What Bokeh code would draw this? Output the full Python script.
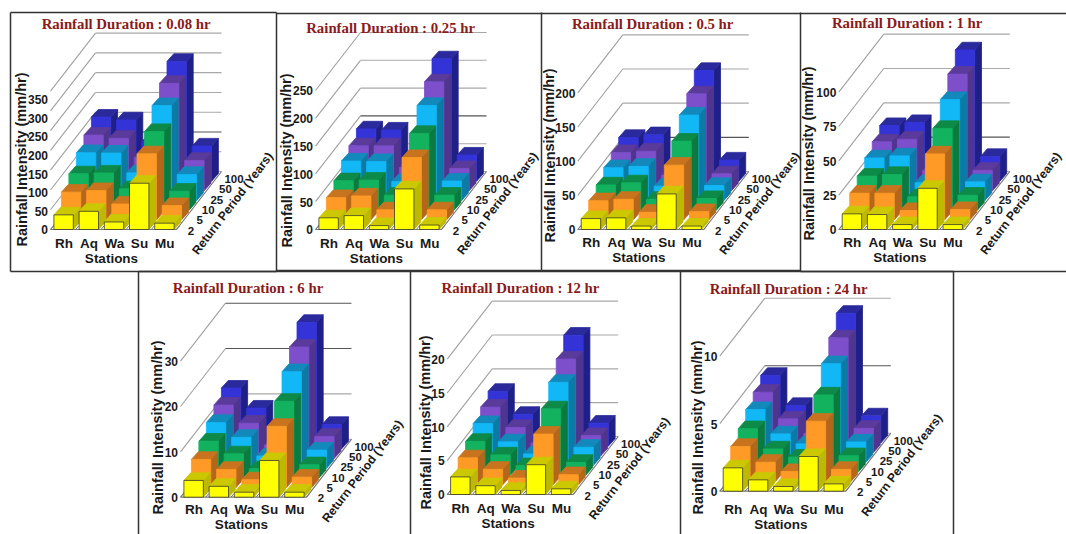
from bokeh.plotting import figure
from bokeh.models import Range1d
from bokeh.core.properties import value
from bokeh.embed import file_html
from bokeh.resources import INLINE

stations = ["Rh", "Aq", "Wa", "Su", "Mu"]
periods = ["2", "5", "10", "25", "50", "100"]

# rows: station, columns: return period
d008 = [[37, 70, 92, 121, 141, 162], [46, 74, 94, 120, 133, 155], [19, 40, 54, 70, 85, 100],
        [117, 167, 199, 240, 272, 303], [16, 36, 48, 66, 77, 89]]
d025 = [[21, 40, 53, 71, 81, 94], [25, 43, 54, 70, 81, 92], [7, 18, 27, 34, 42, 50],
        [73, 112, 138, 171, 196, 220], [8, 18, 27, 35, 40, 47]]
d05 = [[16, 28, 37, 48, 56, 64], [17, 30, 40, 50, 58, 68], [5, 11, 16, 21, 23, 26],
       [52, 80, 101, 125, 142, 162], [5, 12, 17, 22, 25, 31]]
d1 = [[11.4, 19.4, 24.8, 31, 35.7, 40.5], [10.9, 19.4, 26, 32.5, 37.6, 42.7], [3.6, 6.8, 9.7, 13, 15, 17],
      [30, 48, 59.5, 73.5, 85, 95.6], [3.6, 7.5, 10.9, 13.6, 15, 18]]
d6 = [[3.7, 6.2, 8.1, 10.1, 11.8, 13.4], [2.4, 4, 5.3, 6.8, 7.8, 9], [1.1, 1.7, 2, 2.7, 3, 3.4],
      [8.1, 13.5, 16.9, 21.3, 24.6, 27.9], [1.1, 2.3, 2.9, 4, 4.9, 5.4]]
d12 = [[2.6, 4, 5, 6.2, 7.2, 8.1], [1.3, 2.3, 3, 3.5, 4.2, 4.7], [0.6, 1, 1.4, 1.7, 1.9, 2.2],
       [4.4, 7.5, 9.8, 12.3, 14.3, 16.4], [0.84, 1.5, 1.9, 2.7, 3, 3.4]]
d24 = [[1.73, 2.6, 3.2, 3.9, 4.47, 5], [0.84, 1.43, 1.7, 2.1, 2.5, 2.77], [0.35, 0.74, 1.1, 1.36, 1.4, 1.5],
       [2.57, 4.47, 5.7, 7.3, 8.5, 9.6], [0.54, 0.9, 1.2, 1.5, 1.8, 2]]

ticks008 = [0, 50, 100, 150, 200, 250, 300, 350]
ticks025 = [0, 50, 100, 150, 200, 250]
ticks05 = [0, 50, 100, 150, 200]
ticks1 = [0, 25, 50, 75, 100]
ticks6 = [0, 10, 20, 30]
ticks12 = [0, 5, 10, 15, 20]
ticks24 = [0, 5, 10]

front = ["#ffff00", "#ff9a26", "#12b25e", "#12b8f6", "#7d4fca", "#3333d8"]
top = ["#cbc800", "#c8741f", "#0e8a48", "#1289ba", "#5a3a9a", "#2a2a9c"]
side = ["#bdb800", "#b4661a", "#0b7a3e", "#0b7aa4", "#4f358e", "#1f1f88"]

panels = [
    dict(vals=d008, ticks=ticks008, title="Rainfall Duration :  0.08 hr", tc=(127.5, 23), ox=50, oy=229, s=59.3 / 50 / 3,
         yl=(21, 159), ldy=14, dark=[100], lf=0.94),
    dict(vals=d025, ticks=ticks025, title="Rainfall Duration :  0.25 hr", tc=(392, 27), ox=315, oy=229, s=1.668 / 3,
         yl=(286, 160), ldy=14, dark=[100], lf=1),
    dict(vals=d05, ticks=ticks05, title="Rainfall Duration :  0.5 hr", tc=(654, 23), ox=577.3, oy=229, s=2.05 / 3,
         yl=(549, 155), ldy=13, dark=[50], lf=1),
    dict(vals=d1, ticks=ticks1, title="Rainfall Duration :  1 hr", tc=(908.5, 22), ox=838.3, oy=229, s=4.12 / 3,
         yl=(808, 153), ldy=13, dark=[25], lf=1),
    dict(vals=d6, ticks=ticks6, title="Rainfall Duration : 6 hr", tc=(247.5, 287), ox=180, oy=496.7, s=13.6 / 3,
         yl=(157, 427), ldy=12, dark=[20, 30], lf=1),
    dict(vals=d12, ticks=ticks12, title="Rainfall Duration : 12 hr", tc=(520, 287), ox=446.7, oy=494, s=20.3 / 3,
         yl=(425, 422), ldy=14, dark=[], lf=1),
    dict(vals=d24, ticks=ticks24, title="Rainfall Duration :  24 hr", tc=(790, 288), ox=719.3, oy=490.7, s=40.5 / 3,
         yl=(697, 427), ldy=18, dark=[5], lf=1),
]

W, H = 1066, 534
FLOOR_W, DEPTH_X, DEPTH_Y = 126.0, 45.0, -58.0
SLOT = FLOOR_W / 5
BAR_W, BAR_PAD = 19.4, 3.4
BAR_DX, BAR_DY = 6.8, -7.6
ROW_DX, ROW_DY = DEPTH_X / 6, DEPTH_Y / 6

p = figure(width=W, height=H, x_range=Range1d(0, W), y_range=Range1d(H, 0),
           output_backend="svg", toolbar_location=None, min_border=0)
p.axis.visible = False
p.grid.visible = False
p.outline_line_color = None
p.background_fill_color = "white"
p.border_fill_color = "white"

# panel frames
frames = [
    ([10, 276], [12, 12]), ([10, 10], [12, 271]), ([10, 276], [271, 271]), ([276, 276], [12, 271]),
    ([276, 541], [13, 13]), ([276, 541], [270, 270]), ([541, 541], [12, 270]),
    ([541, 800], [13, 13]), ([541, 800], [270, 270]), ([800, 800], [12, 271]),
    ([800, 1066], [13, 13]), ([800, 1066], [271, 271]),
    ([138, 953], [271, 271]), ([138, 138], [271, 534]), ([410, 410], [271, 534]),
    ([680, 680], [271, 534]), ([953, 953], [271, 534]),
]
p.multi_line([f[0] for f in frames], [f[1] for f in frames], line_color="#333333", line_width=1.5)


def text(x, y, t, size, color="#1a1a1a", font="Liberation Sans", align="center", angle=0.0):
    p.text([x], [y], text=[t], text_font=value(font), text_font_style="bold", text_font_size=f"{size}px",
           text_color=color, text_align=align, text_baseline="middle", angle=angle)


for q in panels:
    ox, oy, s = q["ox"], q["oy"], q["s"]
    # walls
    for v in q["ticks"]:
        y0 = oy - v * s
        color = "#555555" if v in q["dark"] else "#a8a8a8"
        p.line([ox, ox + DEPTH_X], [y0, y0 + DEPTH_Y], line_color="#a0a0a0", line_width=1.1)
        p.line([ox + DEPTH_X, ox + DEPTH_X + FLOOR_W], [y0 + DEPTH_Y, y0 + DEPTH_Y], line_color=color, line_width=1.1)
        text(ox - 2.5, oy + 0.3 - v * s * q["lf"], str(v), 12, align="right")
    # floor
    fr = ox + FLOOR_W
    p.line([ox, fr, fr + DEPTH_X], [oy, oy, oy + DEPTH_Y], line_color="#777777", line_width=1.2)
    for k in range(6):
        bx = ox + k * SLOT
        p.line([bx, bx + 3], [oy, oy - 3.5], line_color="#777777", line_width=1)
    # bars, back to front
    xs_all, ys_all, cols, lines = [], [], [], []
    for r in range(5, -1, -1):
        for c in range(5):
            v = q["vals"][c][r]
            x0 = ox + c * SLOT + BAR_PAD + r * ROW_DX
            x1 = x0 + BAR_W
            yb = oy + r * ROW_DY
            yt = yb - v * s
            xs_all.append([x1, x1 + BAR_DX, x1 + BAR_DX, x1])
            ys_all.append([yb, yb + BAR_DY, yt + BAR_DY, yt])
            cols.append(side[r])
            lines.append(side[r])
            xs_all.append([x0, x1, x1 + BAR_DX, x0 + BAR_DX])
            ys_all.append([yt, yt, yt + BAR_DY, yt + BAR_DY])
            cols.append(top[r])
            lines.append(top[r])
            xs_all.append([x0, x1, x1, x0])
            ys_all.append([yb, yb, yt, yt])
            cols.append(front[r])
            lines.append("#3a3a2a" if r == 0 else front[r])
    p.patches(xs_all, ys_all, fill_color=cols, line_color=lines, line_width=0.8)
    # labels
    for k, name in enumerate(stations):
        text(ox + k * SLOT + BAR_PAD + BAR_W / 2 + 0.3, oy + q["ldy"], name, 13.5)
    text(ox + 61, oy + q["ldy"] + 15, "Stations", 13.5)
    for k, name in enumerate(periods):
        text(fr + 13.5 + k * 8.6 + 1, oy + 1 - k * 10.3, name, 11.5)
    text(fr + 56, oy - 26, "Return Period (Years)", 12.2, angle=0.92)
    text(q["yl"][0], q["yl"][1], "Rainfall Intensity (mm/hr)", 14.5, angle=1.5708)
    text(q["tc"][0], q["tc"][1], q["title"], 14.8, color="#8b1a1a", font="Liberation Serif")

open("out.html", "w").write(file_html(p, INLINE))
